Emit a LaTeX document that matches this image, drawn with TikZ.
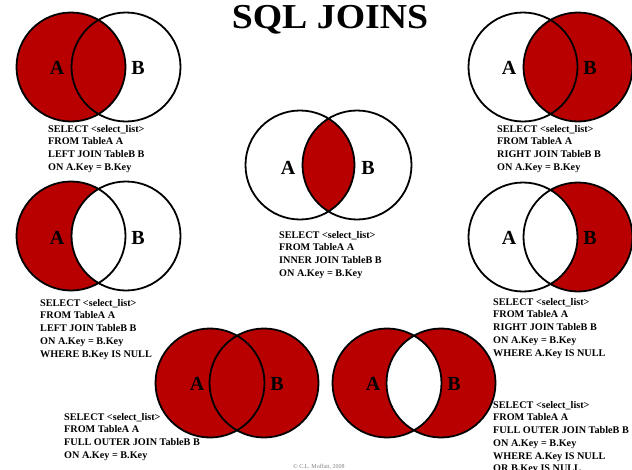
\documentclass[tikz,border=0pt]{standalone}
\usepackage{fontspec}
\setmainfont{Liberation Serif}
\usetikzlibrary{positioning}
\definecolor{joinred}{RGB}{185,0,0}

\begin{document}
\begin{tikzpicture}[x=1pt, y=-1pt,
    ring/.style={draw=black, line width=1.8pt},
    shade/.style={fill=joinred},
    blank/.style={fill=white},
    setlabel/.style={font=\bfseries\fontsize{20}{20}\selectfont, inner sep=0pt},
    query/.style={font=\bfseries\fontsize{10.2}{12.7}\selectfont, align=left,
                  anchor=north west, inner sep=0pt},
    title/.style={font=\bfseries\fontsize{35}{35}\selectfont, inner sep=0pt, anchor=base, xscale=1.08},
    credit/.style={font=\fontsize{6}{6}\selectfont, text=gray, inner sep=0pt, anchor=base west}
]
\useasboundingbox (0,0) rectangle (632,469);

\node [title] (title) at (330,28) {SQL JOINS};

%% ---- LEFT JOIN (top left) ----
\coordinate (ljA) at (71,67);
\coordinate (ljB) at (126,67);
\fill [shade] (ljA) circle (54.5);
\draw [ring] (ljA) circle (54.5) (ljB) circle (54.5);
\node [setlabel] (ljAlabel) at (57,68)  {A};
\node [setlabel] (ljBlabel) at (138,68) {B};
\node [query] (ljquery) at (48,125) {SELECT <select\_list>\\FROM TableA A\\LEFT JOIN TableB B\\ON A.Key = B.Key};

%% ---- RIGHT JOIN (top right) ----
\coordinate (rjA) at (523,67);
\coordinate (rjB) at (578,67);
\fill [shade] (rjB) circle (54.5);
\draw [ring] (rjA) circle (54.5) (rjB) circle (54.5);
\node [setlabel] (rjAlabel) at (509,68) {A};
\node [setlabel] (rjBlabel) at (590,68) {B};
\node [query] (rjquery) at (497,125) {SELECT <select\_list>\\FROM TableA A\\RIGHT JOIN TableB B\\ON A.Key = B.Key};

%% ---- INNER JOIN (centre) ----
\coordinate (ijA) at (300,165);
\coordinate (ijB) at (357,165);
\begin{scope}
  \clip (ijA) circle (54.5);
  \fill [shade] (ijB) circle (54.5);
\end{scope}
\draw [ring] (ijA) circle (54.5) (ijB) circle (54.5);
\node [setlabel] (ijAlabel) at (288,168) {A};
\node [setlabel] (ijBlabel) at (368,168) {B};
\node [query] (ijquery) at (279,231) {SELECT <select\_list>\\FROM TableA A\\INNER JOIN TableB B\\ON A.Key = B.Key};

%% ---- LEFT JOIN, B IS NULL (middle left) ----
\coordinate (lxA) at (71,236);
\coordinate (lxB) at (126,236);
\fill [shade] (lxA) circle (54.5);
\begin{scope}
  \clip (lxA) circle (54.5);
  \fill [blank] (lxB) circle (54.5);
\end{scope}
\draw [ring] (lxA) circle (54.5) (lxB) circle (54.5);
\node [setlabel] (lxAlabel) at (57,238)  {A};
\node [setlabel] (lxBlabel) at (138,238) {B};
\node [query] (lxquery) at (40,299) {SELECT <select\_list>\\FROM TableA A\\LEFT JOIN TableB B\\ON A.Key = B.Key\\WHERE B.Key IS NULL};

%% ---- RIGHT JOIN, A IS NULL (middle right) ----
\coordinate (rxA) at (523,237);
\coordinate (rxB) at (578,237);
\fill [shade] (rxB) circle (54.5);
\begin{scope}
  \clip (rxB) circle (54.5);
  \fill [blank] (rxA) circle (54.5);
\end{scope}
\draw [ring] (rxA) circle (54.5) (rxB) circle (54.5);
\node [setlabel] (rxAlabel) at (509,238) {A};
\node [setlabel] (rxBlabel) at (590,238) {B};
\node [query] (rxquery) at (493,298) {SELECT <select\_list>\\FROM TableA A\\RIGHT JOIN TableB B\\ON A.Key = B.Key\\WHERE A.Key IS NULL};

%% ---- FULL OUTER JOIN (bottom left) ----
\coordinate (fjA) at (210,383);
\coordinate (fjB) at (264,383);
\fill [shade] (fjA) circle (54.5) (fjB) circle (54.5);
\draw [ring] (fjA) circle (54.5) (fjB) circle (54.5);
\node [setlabel] (fjAlabel) at (197,384) {A};
\node [setlabel] (fjBlabel) at (277,384) {B};
\node [query] (fjquery) at (64,413) {SELECT <select\_list>\\FROM TableA A\\FULL OUTER JOIN TableB B\\ON A.Key = B.Key};

%% ---- FULL OUTER JOIN, A OR B IS NULL (bottom right) ----
\coordinate (fxA) at (387,383);
\coordinate (fxB) at (441,383);
\fill [shade, even odd rule] (fxA) circle (54.5) (fxB) circle (54.5);
\draw [ring] (fxA) circle (54.5) (fxB) circle (54.5);
\node [setlabel] (fxAlabel) at (373,384) {A};
\node [setlabel] (fxBlabel) at (454,384) {B};
\node [query] (fxquery) at (493,401) {SELECT <select\_list>\\FROM TableA A\\FULL OUTER JOIN TableB B\\ON A.Key = B.Key\\WHERE A.Key IS NULL\\OR B.Key IS NULL};

\node [credit] (credit) at (293,468) {© C.L. Moffatt, 2008};

\end{tikzpicture}
\end{document}
